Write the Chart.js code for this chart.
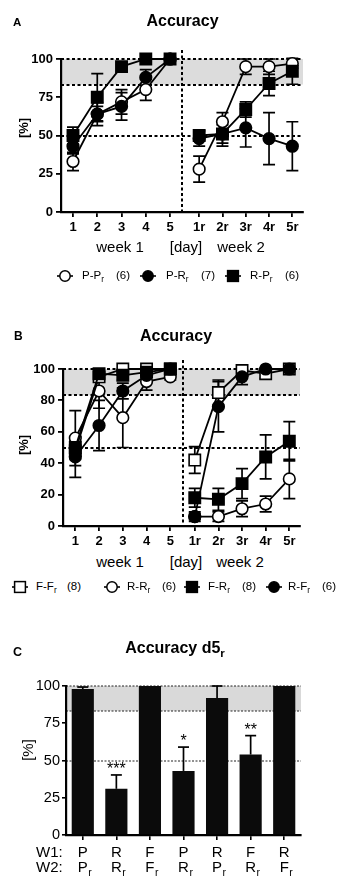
<!DOCTYPE html>
<html><head><meta charset="utf-8">
<script src="https://cdn.jsdelivr.net/npm/chart.js@4/dist/chart.umd.min.js"></script>
<style>
body{margin:0;background:#fff;}
#fig{position:relative;width:339px;height:893px;overflow:hidden;font-family:'Liberation Sans',Arial,sans-serif;color:#000;background:#fff;}
canvas{position:absolute;left:0;}
.t{position:absolute;white-space:nowrap;line-height:1;}
.c{transform:translateX(-50%);}
.rot{transform:translate(-50%,-50%) rotate(-90deg);}
.b{font-weight:bold;}
sub{font-size:72%;vertical-align:-0.35em;line-height:0;}
</style></head>
<body>
<div id="fig">
  <canvas id="cvA" width="339" height="245" style="top:0"></canvas>
  <canvas id="cvB" width="339" height="250" style="top:300px"></canvas>
  <canvas id="cvC" width="339" height="245" style="top:640px"></canvas>

  <div class="t b" style="left:13px;top:17px;font-size:11.5px">A</div>
  <div class="t b c" style="left:182.5px;top:12.5px;font-size:16px">Accuracy</div>
  <div class="t b rot" style="left:22.5px;top:128px;font-size:13px">[%]</div>
  <div class="t c" style="left:120px;top:238.5px;font-size:15px">week 1</div>
  <div class="t c" style="left:186px;top:238.5px;font-size:15px">[day]</div>
  <div class="t c" style="left:241px;top:238.5px;font-size:15px">week 2</div>

  <div class="t b" style="left:14px;top:330px;font-size:12px">B</div>
  <div class="t b c" style="left:176px;top:328px;font-size:16px">Accuracy</div>
  <div class="t b rot" style="left:23px;top:445px;font-size:13px">[%]</div>
  <div class="t c" style="left:120px;top:553.5px;font-size:15px">week 1</div>
  <div class="t c" style="left:186px;top:553.5px;font-size:15px">[day]</div>
  <div class="t c" style="left:240px;top:553.5px;font-size:15px">week 2</div>

  <div class="t b" style="left:13px;top:646px;font-size:12.5px">C</div>
  <div class="t b c" style="left:175px;top:640.3px;font-size:16px">Accuracy d5<sub>r</sub></div>
  <div class="t rot" style="left:27px;top:750px;font-size:15px">[%]</div>
</div>
<script>
// ---------- data ----------
const dayLabels = ['1','2','3','4','5','1r','2r','3r','4r','5r'];

// Panel A
const aPPr    = [33, 64, 72, 80, 100, 28, 59, 95, 95, 97];
const aPPrErr = [6, 5, 8, 7, 0, 8.5, 6, 5, 5, 3];
const aPRr    = [43, 64, 69, 88, 100, 48, 51, 55, 48, 43];
const aPRrErr = [5, 7.5, 9, 5, 0, 5, 6, 12.5, 17, 16];
const aRPr    = [50, 75, 95, 100, 100, 50, 51, 67, 84, 92];
const aRPrErr = [5.5, 15.5, 0, 0, 0, 3, 8, 5, 8, 8.5];

// Panel B
const bFFr    = [48, 95, 100, 100, 100, 42, 85, 99, 97, 100];
const bFFrErr = [5, 3, 0, 0, 0, 8.5, 8, 3, 3, 0];
const bRRr    = [56, 86, 69, 92, 95, 6, 6, 11, 14, 30];
const bRRrErr = [17.5, 11, 19, 5.5, 2, 3, 3, 5, 5, 12.5];
const bFRr    = [50, 97, 96, 98, 100, 18, 17, 27, 44, 54];
const bFRrErr = [4, 3, 3, 2, 0, 6, 7, 9.5, 14, 12.5];
const bRFr    = [44, 64, 86, 96, 100, 6, 76, 95, 100, 100];
const bRFrErr = [13, 16, 5, 4, 0, 2, 16, 5, 0, 0];

// Panel C
const cW1    = ['P','R','F','P','R','F','R'];
const cW2    = ['P','R','F','R','P','R','F'];
const cMeans = [98, 31, 100, 43, 92, 54, 100];
const cErrs  = [1.3, 9.3, 0, 16, 8, 12.7, 0];
const cStars = ['', '***', '', '*', '', '**', ''];

const ticksA = [0, 25, 50, 75, 100];
const ticksB = [0, 20, 40, 60, 80, 100];
const ticksC = [0, 25, 50, 75, 100];

// ---------- setup ----------
Chart.defaults.font.family = "'Liberation Sans', Arial, sans-serif";
Chart.defaults.color = '#000';
Chart.defaults.animation = false;

function dayPositions(gap, step) {
  return dayLabels.map((_, i) => i < 5 ? i + 1 : 6 + gap + (i - 5) * step);
}

const refLines = {
  id: 'refLines',
  beforeDraw(chart, args, o) {
    const {ctx, chartArea: {left, right, top, bottom}, scales: {x, y}} = chart;
    ctx.save();
    const yT = y.getPixelForValue(o.band[1]), yB = y.getPixelForValue(o.band[0]);
    ctx.fillStyle = o.bandColor;
    ctx.fillRect(left, yT, right - left, yB - yT);
    ctx.strokeStyle = o.color; ctx.lineWidth = o.lw; ctx.setLineDash(o.dash);
    o.lines.forEach(v => {
      const py = Math.round(y.getPixelForValue(v));
      ctx.beginPath(); ctx.moveTo(left, py); ctx.lineTo(right, py); ctx.stroke();
    });
    if (o.vline != null) {
      const px = Math.round(x.getPixelForValue(o.vline));
      ctx.beginPath(); ctx.moveTo(px, top - o.vExt); ctx.lineTo(px, bottom); ctx.stroke();
    }
    ctx.restore();
  }
};

function drawErr(chart, o) {
  const {ctx, scales: {y}} = chart;
  ctx.save(); ctx.strokeStyle = '#000'; ctx.lineWidth = o.lw; ctx.setLineDash([]);
  chart.data.datasets.forEach((ds, di) => {
    const meta = chart.getDatasetMeta(di);
    meta.data.forEach((el, i) => {
      const e = ds.errors[i]; if (!e) return;
      const raw = ds.data[i]; const v = (typeof raw === 'object') ? raw.y : raw;
      const px = el.x;
      const yHi = y.getPixelForValue(v + e);
      const yLo = y.getPixelForValue(o.upOnly ? v : v - e);
      ctx.beginPath(); ctx.moveTo(px, yLo); ctx.lineTo(px, yHi); ctx.stroke();
      ctx.beginPath(); ctx.moveTo(px - o.cap, yHi); ctx.lineTo(px + o.cap, yHi);
      if (!o.upOnly) { ctx.moveTo(px - o.cap, yLo); ctx.lineTo(px + o.cap, yLo); }
      ctx.stroke();
    });
  });
  ctx.restore();
}
const errorBars = {
  id: 'errorBars',
  beforeDatasetsDraw(chart, a, o) { if (!o.after) drawErr(chart, o); },
  afterDatasetsDraw(chart, a, o) { if (o.after) drawErr(chart, o); }
};

function linePanel(id, p) {
  const datasets = p.series.map(s => ({
    label: s.label,
    data: s.values.map((v, i) => ({x: p.xs[i], y: v})),
    errors: s.errors,
    borderColor: '#000', borderWidth: 1.8, tension: 0,
    pointStyle: s.shape,
    pointRadius: s.shape === 'rect' ? 8 : 5.8,
    pointHoverRadius: s.shape === 'rect' ? 8 : 5.8,
    pointBackgroundColor: s.fill, pointBorderColor: '#000', pointBorderWidth: 1.6,
    clip: false,
    segment: {borderColor: c => c.p0DataIndex === 4 ? 'rgba(0,0,0,0)' : '#000'}
  }));
  const axisCommon = {
    grid: {drawOnChartArea: false, color: '#000', lineWidth: 1.8, tickLength: 5},
    border: {color: '#000', width: 2.2}
  };
  return new Chart(document.getElementById(id), {
    type: 'line',
    data: {datasets},
    plugins: [refLines, errorBars],
    options: {
      responsive: false, devicePixelRatio: 1,
      layout: {padding: {top: p.padTop, right: p.padRight, left: 0, bottom: 0}},
      events: [],
      plugins: {
        legend: {display: false}, tooltip: {enabled: false},
        refLines: {band: [83.3, 100], bandColor: '#dcdcdc', lines: [100, 83.3, 50], vline: p.vline, vExt: 9, color: '#000', lw: 2, dash: [3, 2.5]},
        errorBars: {lw: 1.7, cap: 6, upOnly: false, after: false}
      },
      scales: {
        x: {
          type: 'linear', min: p.xmin, max: p.xmax,
          afterBuildTicks: s => { s.ticks = p.xs.map(v => ({value: v})); },
          afterFit: s => { s.height = p.xh; },
          ticks: {callback: (v, i) => dayLabels[i], font: {size: 13, weight: 'bold'}, color: '#000', padding: 3, autoSkip: false, maxRotation: 0},
          ...axisCommon
        },
        y: {
          min: 0, max: 100,
          afterBuildTicks: s => { s.ticks = p.yticks.map(v => ({value: v})); },
          afterFit: s => { s.width = p.yw; },
          ticks: {font: {size: 13, weight: 'bold'}, color: '#000', padding: 3},
          ...axisCommon
        }
      }
    }
  });
}

linePanel('cvA', {
  xs: dayPositions(0.2, 0.96), xmin: 0.505, xmax: 10.48, vline: 5.5,
  padTop: 59, padRight: 36, yw: 61, xh: 33, yticks: ticksA,
  series: [
    {label: 'R-Pr', values: aRPr, errors: aRPrErr, shape: 'rect', fill: '#000'},
    {label: 'P-Rr', values: aPRr, errors: aPRrErr, shape: 'circle', fill: '#000'},
    {label: 'P-Pr', values: aPPr, errors: aPPrErr, shape: 'circle', fill: '#fff'}
  ]
});

linePanel('cvB', {
  xs: dayPositions(0.03, 0.995), xmin: 0.482, xmax: 10.46, vline: 5.53,
  padTop: 69, padRight: 39, yw: 63, xh: 24, yticks: ticksB,
  series: [
    {label: 'F-Rr', values: bFRr, errors: bFRrErr, shape: 'rect', fill: '#000'},
    {label: 'R-Fr', values: bRFr, errors: bRFrErr, shape: 'circle', fill: '#000'},
    {label: 'F-Fr', values: bFFr, errors: bFFrErr, shape: 'rect', fill: '#fff'},
    {label: 'R-Rr', values: bRRr, errors: bRRrErr, shape: 'circle', fill: '#fff'}
  ]
});

const catLabels = {
  id: 'catLabels',
  afterDraw(chart, a, o) {
    const {ctx, scales: {x}} = chart;
    ctx.save(); ctx.fillStyle = '#000'; ctx.textBaseline = 'middle';
    ctx.font = "15px 'Liberation Sans', Arial, sans-serif";
    ctx.textAlign = 'left';
    ctx.fillText('W1:', o.labelX, o.row1);
    ctx.fillText('W2:', o.labelX, o.row2);
    ctx.textAlign = 'center';
    cW1.forEach((t, i) => ctx.fillText(t, x.getPixelForTick(i), o.row1));
    cW2.forEach((t, i) => {
      const px = x.getPixelForTick(i);
      ctx.font = "15px 'Liberation Sans', Arial, sans-serif";
      ctx.textAlign = 'center';
      ctx.fillText(t, px, o.row2);
      const w = ctx.measureText(t).width;
      ctx.font = "10.5px 'Liberation Sans', Arial, sans-serif";
      ctx.textAlign = 'left';
      ctx.fillText('r', px + w / 2 + 0.5, o.row2 + 6);
    });
    ctx.restore();
  }
};
const stars = {
  id: 'stars',
  afterDatasetsDraw(chart) {
    const {ctx, scales: {y}} = chart;
    const meta = chart.getDatasetMeta(0);
    ctx.save(); ctx.fillStyle = '#000'; ctx.textAlign = 'center'; ctx.textBaseline = 'alphabetic';
    ctx.font = "16px 'Liberation Sans', Arial, sans-serif";
    cStars.forEach((s, i) => {
      if (!s) return;
      const yTop = y.getPixelForValue(cMeans[i] + cErrs[i]);
      ctx.fillText(s, meta.data[i].x, yTop - 1);
    });
    ctx.restore();
  }
};

new Chart(document.getElementById('cvC'), {
  type: 'bar',
  data: {
    labels: cW1.map((a, i) => a + '-' + cW2[i] + 'r'),
    datasets: [{data: cMeans, errors: cErrs, backgroundColor: '#0b0b0b', borderWidth: 0, barPercentage: 0.66, categoryPercentage: 1}]
  },
  plugins: [refLines, errorBars, stars, catLabels],
  options: {
    responsive: false, devicePixelRatio: 1, events: [],
    layout: {padding: {top: 46, right: 38, left: 0, bottom: 0}},
    plugins: {
      legend: {display: false}, tooltip: {enabled: false},
      refLines: {band: [83.3, 100], bandColor: '#d9d9d9', lines: [100, 83.3, 50], vline: null, vExt: 0, color: '#222', lw: 1, dash: [2, 1.5]},
      errorBars: {lw: 1.7, cap: 5.5, upOnly: true, after: true},
      catLabels: {row1: 213.3, row2: 227.5, labelX: 36}
    },
    scales: {
      x: {
        grid: {offset: false, drawOnChartArea: false, color: '#000', lineWidth: 1.6, tickLength: 5},
        border: {color: '#000', width: 2.2},
        ticks: {display: false},
        afterFit: s => { s.height = 50; }
      },
      y: {
        min: 0, max: 100,
        afterBuildTicks: s => { s.ticks = ticksC.map(v => ({value: v})); },
        afterFit: s => { s.width = 66; },
        grid: {drawOnChartArea: false, color: '#000', lineWidth: 1.6, tickLength: 4},
        border: {color: '#000', width: 2.2},
        ticks: {font: {size: 14.5}, color: '#000', padding: 2}
      }
    }
  }
});

// ---------- legends (HTML) ----------
const legendA = [
  {name: 'P-P', n: '(6)', shape: 'circle', fill: '#fff'},
  {name: 'P-R', n: '(7)', shape: 'circle', fill: '#000'},
  {name: 'R-P', n: '(6)', shape: 'rect', fill: '#000'}
];
const legendB = [
  {name: 'F-F', n: '(8)', shape: 'rect', fill: '#fff'},
  {name: 'R-R', n: '(6)', shape: 'circle', fill: '#fff'},
  {name: 'F-R', n: '(8)', shape: 'rect', fill: '#000'},
  {name: 'R-F', n: '(6)', shape: 'circle', fill: '#000'}
];
const layA = {cy: 276, mx: [65, 148, 233], tx: [82, 166, 250], nx: [116, 201, 285]};
const layB = {cy: 587, mx: [20, 112, 192, 274], tx: [36, 127, 208, 288], nx: [67, 162, 242, 322]};

function buildLegend(items, lay) {
  const fig = document.getElementById('fig');
  items.forEach((it, i) => {
    const svg = document.createElementNS('http://www.w3.org/2000/svg', 'svg');
    svg.setAttribute('width', 20); svg.setAttribute('height', 16);
    svg.style.position = 'absolute';
    svg.style.left = (lay.mx[i] - 10) + 'px'; svg.style.top = (lay.cy - 8) + 'px';
    let mk = '<line x1="2" y1="8" x2="18" y2="8" stroke="#000" stroke-width="1.6"/>';
    if (it.shape === 'circle') mk += '<circle cx="10" cy="8" r="5.2" fill="' + it.fill + '" stroke="#000" stroke-width="1.5"/>';
    else mk += '<rect x="4.6" y="2.6" width="10.8" height="10.8" fill="' + it.fill + '" stroke="#000" stroke-width="1.5"/>';
    svg.innerHTML = mk;
    fig.appendChild(svg);
    const t = document.createElement('div');
    t.className = 't'; t.style.fontSize = '11.5px';
    t.style.left = lay.tx[i] + 'px'; t.style.top = (lay.cy - 5.75) + 'px';
    t.innerHTML = it.name + '<sub>r</sub>';
    fig.appendChild(t);
    const n = document.createElement('div');
    n.className = 't'; n.style.fontSize = '11.5px';
    n.style.left = lay.nx[i] + 'px'; n.style.top = (lay.cy - 5.75) + 'px';
    n.textContent = it.n;
    fig.appendChild(n);
  });
}
buildLegend(legendA, layA);
buildLegend(legendB, layB);
</script>
</body></html>
